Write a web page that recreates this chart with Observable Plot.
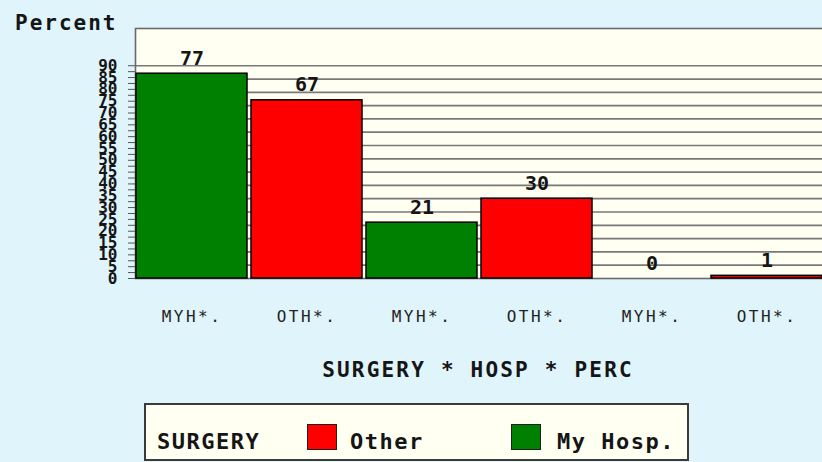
<!DOCTYPE html>
<html>
<head>
<meta charset="utf-8">
<script src="https://cdn.jsdelivr.net/npm/d3@7"></script>
<script src="https://cdn.jsdelivr.net/npm/@observablehq/plot@0.6"></script>
<style>
html, body { margin:0; padding:0; background:#E0F4FC; overflow:hidden; width:822px; height:462px; }
#wrap { position:relative; width:822px; height:462px; overflow:hidden; }
#wrap svg { position:absolute; left:0; top:0; background:transparent; max-width:none !important; width:830px !important; height:462px !important; }
.lbl { position:absolute; font-family:"DejaVu Sans Mono", monospace; font-weight:bold; color:#151515; white-space:nowrap; line-height:1; }
#ylab { left:15px; top:13px; font-size:21px; letter-spacing:2px; }
#xtitle { left:0; width:956px; text-align:center; top:360px; font-size:21px; letter-spacing:2.2px; }
#legend { position:absolute; left:144px; top:403px; width:541px; height:54px; border:2px solid #3a3a3a; background:#FFFFF2; }
#legend .t { position:absolute; font-family:"DejaVu Sans Mono", monospace; font-weight:bold; color:#151515; white-space:nowrap; line-height:1; font-size:22px; letter-spacing:1.5px; top:26px; }
#legend .sw { position:absolute; top:19px; width:28px; height:24px; border:1.5px solid #202020; }
g[aria-label="x-axis tick label"] text { letter-spacing:2.5px; }
</style>
</head>
<body>
<div id="wrap">
  <div id="ylab" class="lbl">Percent</div>
  <div id="xtitle" class="lbl">SURGERY * HOSP * PERC</div>
  <div id="legend"></div>
</div>
<script>
// ---- data ----
const barKeys = [0, 1, 2, 3, 4, 5];
const groupLabels = ["MYH*.", "OTH*.", "MYH*.", "OTH*.", "MYH*.", "OTH*."];
const surgery = ["My Hosp.", "Other", "My Hosp.", "Other", "My Hosp.", "Other"];
const percents = [77, 67, 21, 30, 0, 1];
const yTickLabels = [0, 5, 10, 15, 20, 25, 30, 35, 40, 45, 50, 55, 60, 65, 70, 75, 80, 85, 90];
const gridLevels = [5, 10, 15, 20, 25, 30, 35, 40, 45, 50, 55, 60, 65, 70, 75, 80];
const legendTitle = "SURGERY";
const legendCategories = ["Other", "My Hosp."];
const legendColors = ["#FF0000", "#008000"];

const rows = barKeys.map((k, i) => ({key: k, label: groupLabels[i], surgery: surgery[i], value: percents[i]}));

// the printed axis labels are compressed: label 90 sits at the 80 level
const labelScale = 80 / 90;
const majorPos = yTickLabels.map(v => v * labelScale);
const minorPos = yTickLabels.slice(0, -1).map(v => (v + 2.5) * labelScale);

const chart = Plot.plot({
  width: 830,
  height: 462,
  marginLeft: 135,
  marginRight: 2,
  marginTop: 28,
  marginBottom: 184,
  style: {background: "transparent", fontFamily: "DejaVu Sans Mono, monospace", color: "#151515"},
  x: {domain: barKeys, range: [135, 822.5], paddingInner: 0.032, paddingOuter: 0},
  y: {domain: [0, 94]},
  color: {domain: legendCategories, range: legendColors},
  marks: [
    Plot.frame({fill: "#FFFFF2", stroke: "none"}),
    Plot.ruleY(gridLevels, {stroke: "#787878", strokeWidth: 1.7}),
    Plot.frame({stroke: "#6a6a6a", strokeWidth: 1.6}),
    Plot.barY(rows, {filter: d => d.value > 0, x: "key", y: "value", fill: "surgery", stroke: "#000", strokeWidth: 1.5}),
    Plot.text(rows, {x: "key", y: "value", text: d => String(d.value), lineAnchor: "bottom", dy: -9, fontSize: 20, fontWeight: "bold", fill: "#151515"}),
    Plot.axisX({tickSize: 0, tickPadding: 32, tickFormat: i => groupLabels[i], fontSize: 16, fill: "#222", label: null}),
    Plot.axisY({ticks: minorPos, tickSize: 7, tickFormat: () => "", label: null, stroke: "#555"}),
    Plot.axisY({ticks: majorPos, tickSize: 7, tickPadding: 11, tickFormat: v => String(Math.round(v / labelScale)), fontSize: 16, fontWeight: "bold", label: null, stroke: "#555"})
  ]
});
document.getElementById("wrap").prepend(chart);

// legend built from the data arrays
const legend = document.getElementById("legend");
const title = document.createElement("div");
title.className = "t"; title.style.left = "11px"; title.textContent = legendTitle;
legend.appendChild(title);
const swLeft = [161, 365];
const txLeft = [204, 411];
legendCategories.forEach((c, i) => {
  const sw = document.createElement("div");
  sw.className = "sw"; sw.style.left = swLeft[i] + "px"; sw.style.background = legendColors[i];
  legend.appendChild(sw);
  const t = document.createElement("div");
  t.className = "t"; t.style.left = txLeft[i] + "px"; t.textContent = c;
  legend.appendChild(t);
});
</script>
</body>
</html>
